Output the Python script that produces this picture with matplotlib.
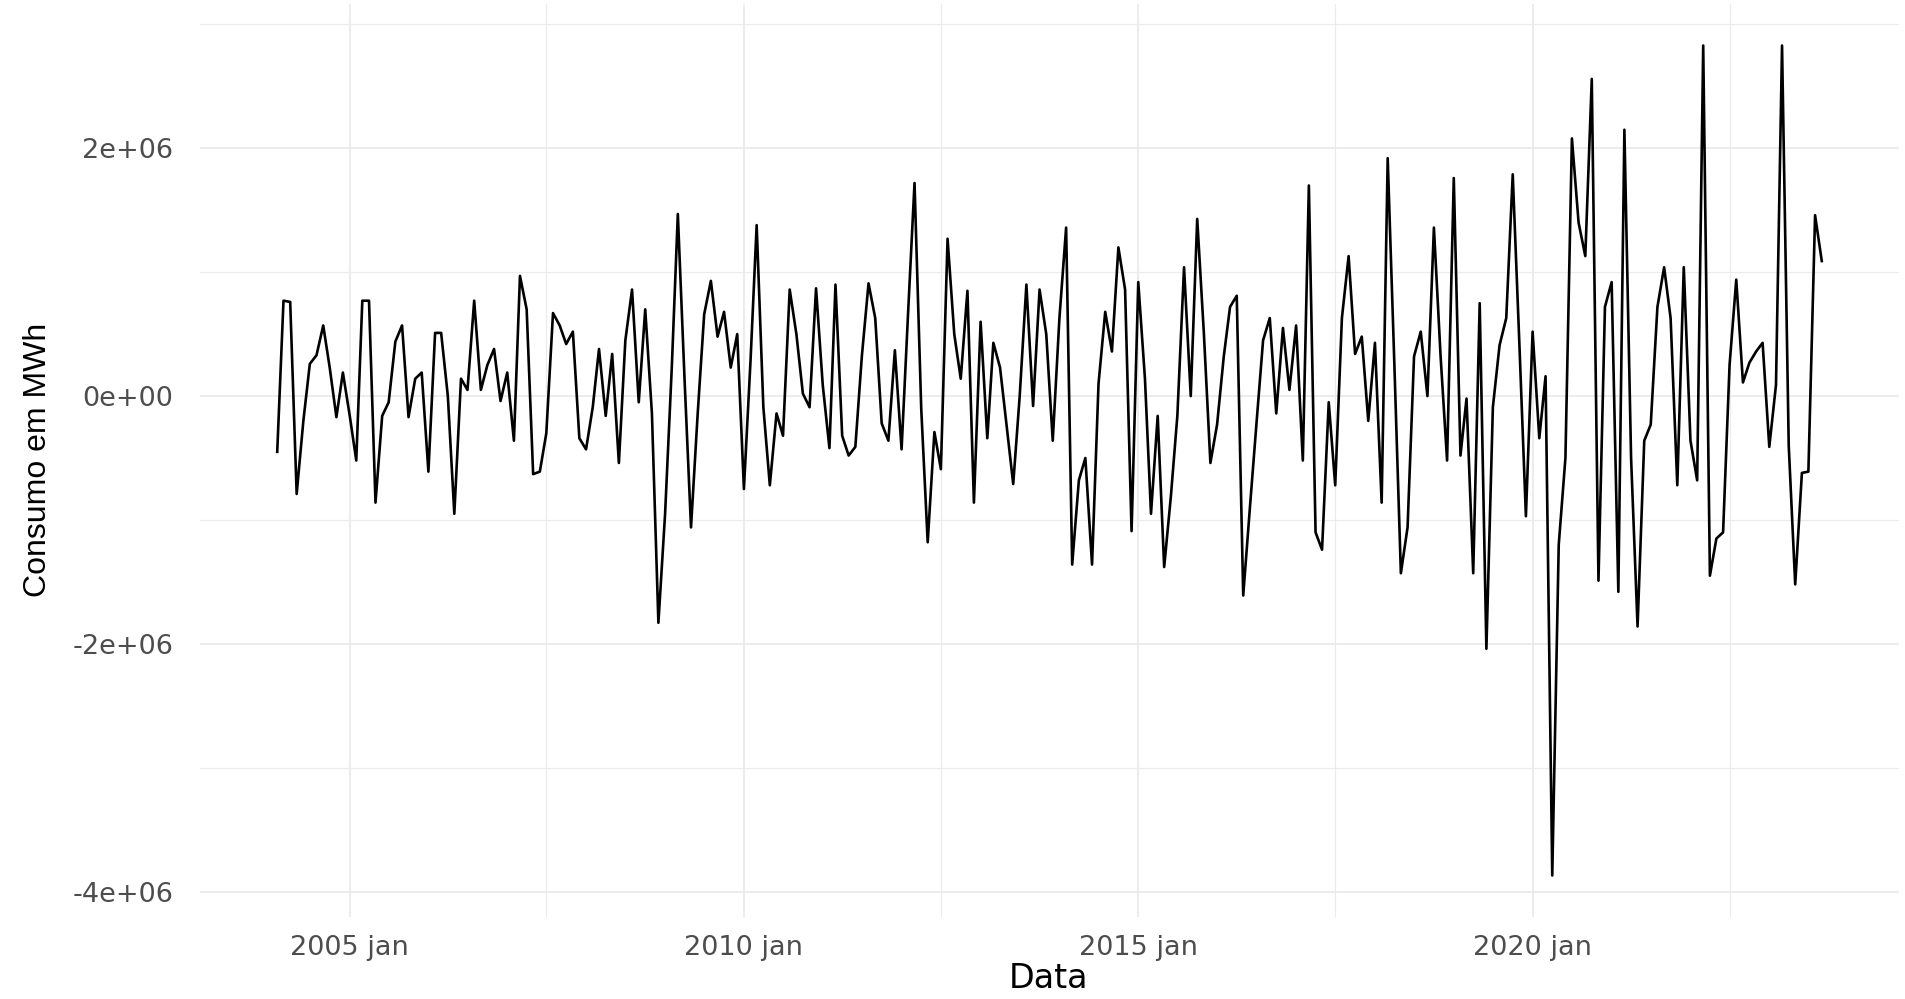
import numpy as np
import pandas as pd
import matplotlib
matplotlib.use("Agg")
import matplotlib.pyplot as plt

# Monthly change in electricity consumption (millions of MWh), Feb 2004 - Sep 2023
first_month = "2004-02-01"
y2004 = [-0.45, 0.77, 0.76, -0.79, -0.20, 0.26, 0.33, 0.57, 0.23, -0.17, 0.19]
y2005 = [-0.15, -0.52, 0.77, 0.77, -0.86, -0.16, -0.05, 0.44, 0.57, -0.17, 0.14, 0.19]
y2006 = [-0.61, 0.51, 0.51, 0.00, -0.95, 0.14, 0.05, 0.77, 0.05, 0.25, 0.38, -0.04]
y2007 = [0.19, -0.36, 0.97, 0.70, -0.63, -0.61, -0.30, 0.67, 0.57, 0.42, 0.52, -0.34]
y2008 = [-0.43, -0.09, 0.38, -0.16, 0.34, -0.54, 0.45, 0.86, -0.05, 0.70, -0.14, -1.83]
y2009 = [-0.95, 0.23, 1.47, 0.14, -1.06, -0.14, 0.66, 0.93, 0.48, 0.68, 0.23, 0.50]
y2010 = [-0.75, 0.30, 1.38, -0.09, -0.72, -0.14, -0.32, 0.86, 0.50, 0.02, -0.09, 0.87]
y2011 = [0.09, -0.42, 0.90, -0.32, -0.48, -0.41, 0.32, 0.91, 0.63, -0.22, -0.36, 0.37]
y2012 = [-0.43, 0.70, 1.72, -0.10, -1.18, -0.29, -0.59, 1.27, 0.50, 0.14, 0.85, -0.86]
y2013 = [0.60, -0.34, 0.43, 0.23, -0.23, -0.71, 0.00, 0.90, -0.08, 0.86, 0.50, -0.36]
y2014 = [0.63, 1.36, -1.36, -0.68, -0.50, -1.36, 0.10, 0.68, 0.36, 1.20, 0.86, -1.09]
y2015 = [0.92, 0.14, -0.95, -0.16, -1.38, -0.81, -0.16, 1.04, 0.00, 1.43, 0.50, -0.54]
y2016 = [-0.23, 0.32, 0.72, 0.81, -1.61, -0.90, -0.23, 0.45, 0.63, -0.14, 0.55, 0.05]
y2017 = [0.57, -0.52, 1.70, -1.10, -1.24, -0.05, -0.72, 0.63, 1.13, 0.34, 0.48, -0.20]
y2018 = [0.43, -0.86, 1.92, 0.25, -1.43, -1.06, 0.32, 0.52, 0.00, 1.36, 0.32, -0.52]
y2019 = [1.76, -0.48, -0.02, -1.43, 0.75, -2.04, -0.09, 0.41, 0.63, 1.79, 0.41, -0.97]
y2020 = [0.52, -0.34, 0.16, -3.87, -1.20, -0.50, 2.08, 1.40, 1.13, 2.56, -1.49, 0.72]
y2021 = [0.92, -1.58, 2.15, -0.50, -1.86, -0.36, -0.23, 0.72, 1.04, 0.63, -0.72, 1.04]
y2022 = [-0.36, -0.68, 2.83, -1.45, -1.15, -1.10, 0.25, 0.94, 0.11, 0.27, 0.36, 0.43]
y2023 = [-0.41, 0.09, 2.83, -0.40, -1.52, -0.62, -0.61, 1.46, 1.09]

x_tick_dates = ["2005-01-01", "2010-01-01", "2015-01-01", "2020-01-01"]
x_tick_labels = ["2005 jan", "2010 jan", "2015 jan", "2020 jan"]
x_minor_dates = ["2007-07-01", "2012-07-01", "2017-07-01", "2022-07-01"]
y_ticks = [-4e6, -2e6, 0, 2e6]
y_tick_labels = ["-4e+06", "-2e+06", "0e+00", "2e+06"]
y_minor = [-3e6, -1e6, 1e6, 3e6]

series_mi = (y2004 + y2005 + y2006 + y2007 + y2008 + y2009 + y2010 + y2011 + y2012
             + y2013 + y2014 + y2015 + y2016 + y2017 + y2018 + y2019 + y2020
             + y2021 + y2022 + y2023)
consumo = np.array(series_mi) * 1e6
datas = pd.date_range(first_month, periods=len(consumo), freq="MS")

W, H = 1905, 999
fig = plt.figure(figsize=(W / 100, H / 100), dpi=100)
fig.patch.set_facecolor("white")
ax = fig.add_axes([200 / W, (H - 917) / H, 1699 / W, (917 - 4) / H])
ax.set_facecolor("white")

grid_col = "#EBEBEB"
ax.plot(datas, consumo, color="black", lw=1.9, zorder=3)
ax.margins(x=0.05, y=0.05)

ax.set_xticks(pd.to_datetime(x_tick_dates))
ax.set_xticklabels(x_tick_labels)
ax.set_xticks(pd.to_datetime(x_minor_dates), minor=True)
ax.set_yticks(y_ticks)
ax.set_yticklabels(y_tick_labels)
ax.set_yticks(y_minor, minor=True)

ax.grid(which="major", color=grid_col, lw=1.3, zorder=0)
ax.grid(which="minor", color=grid_col, lw=0.8, zorder=0)
ax.set_axisbelow(True)

for s in ax.spines.values():
    s.set_visible(False)
ax.tick_params(which="both", length=0)
ax.tick_params(axis="x", which="major", pad=13, labelsize=19.5, labelcolor="#4D4D4D")
ax.tick_params(axis="y", which="major", pad=19, labelsize=19.5, labelcolor="#4D4D4D")
for lab in ax.get_xticklabels() + ax.get_yticklabels():
    lab.set_family("DejaVu Sans")

fig.text(1049 / W, 1 - 979 / H, "Data", ha="center", va="center",
         fontsize=24, color="black", family="DejaVu Sans")
fig.text(38 / W, 1 - 460 / H, "Consumo em MWh", ha="center", va="center",
         rotation=90, fontsize=23, color="black",
         family=["Liberation Sans", "DejaVu Sans"])

fig.savefig("out.png", dpi=100, facecolor="white")
